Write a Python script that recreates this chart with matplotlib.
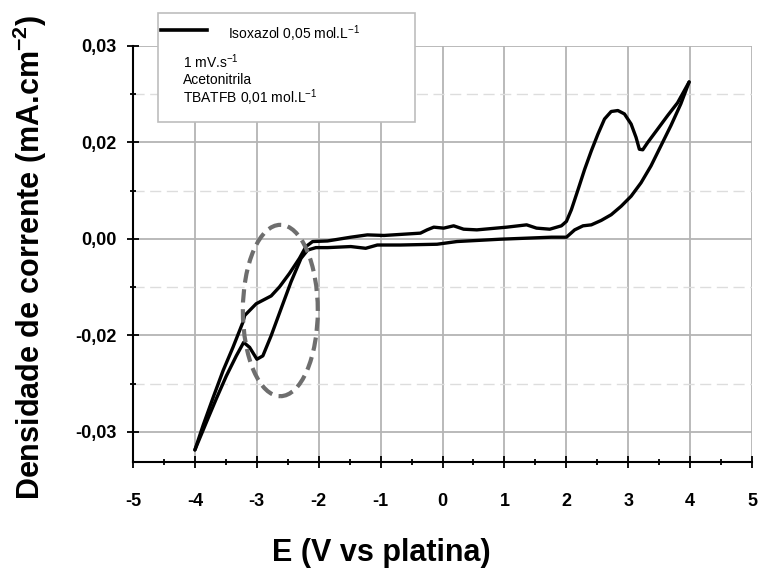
import numpy as np
import matplotlib
matplotlib.use("Agg")
import matplotlib.pyplot as plt
from matplotlib.patches import Ellipse, Rectangle
from matplotlib.lines import Line2D
from matplotlib.ticker import MultipleLocator

plt.rcParams['font.family'] = ['Liberation Sans', 'DejaVu Sans']
plt.rcParams['mathtext.fontset'] = 'custom'
plt.rcParams['mathtext.rm'] = 'Liberation Sans'
plt.rcParams['mathtext.bf'] = 'Liberation Sans:bold'

# cathodic sweep (4 V -> -4 V), current in units of the tick spacing (0.01)
E_back = [3.984, 3.850, 3.690, 3.529, 3.368, 3.207, 3.047, 2.886, 2.725, 2.564,
          2.404, 2.270, 2.135, 2.002, 1.760, 0.929, 0.233, -0.088, -0.678,
          -1.053, -1.241, -1.482, -1.857, -2.045, -2.178, -2.286, -2.447,
          -2.608, -2.768, -2.902, -2.998, -3.116, -3.212, -3.331, -3.492,
          -3.653, -3.814, -4.0]
j_back = [1.627, 1.400, 1.175, 0.966, 0.757, 0.582, 0.443, 0.339, 0.251, 0.192,
          0.146, 0.136, 0.094, 0.018, 0.018, -0.003, -0.027, -0.055, -0.063,
          -0.063, -0.097, -0.079, -0.090, -0.090, -0.115, -0.202, -0.445,
          -0.724, -1.003, -1.212, -1.247, -1.124, -1.072, -1.212, -1.420,
          -1.655, -1.900, -2.187]
# anodic sweep (-4 V -> 4 V)
E_fwd = [-4.0, -3.866, -3.706, -3.545, -3.384, -3.224, -3.196, -3.010, -2.768,
         -2.633, -2.473, -2.312, -2.206, -2.098, -1.857, -1.482, -1.214, -0.945,
         -0.357, -0.249, -0.141, 0.019, 0.180, 0.341, 0.555, 1.037, 1.359,
         1.519, 1.733, 1.921, 2.002, 2.082, 2.190, 2.296, 2.404, 2.511, 2.617,
         2.725, 2.833, 2.939, 3.047, 3.127, 3.180, 3.235, 3.315, 3.476, 3.637,
         3.797, 3.984]
j_fwd = [-2.187, -1.930, -1.645, -1.366, -1.122, -0.863, -0.794, -0.672, -0.591,
         -0.497, -0.358, -0.202, -0.079, -0.027, -0.021, 0.018, 0.042, 0.036,
         0.060, 0.094, 0.122, 0.112, 0.136, 0.101, 0.094, 0.122, 0.146,
         0.112, 0.101, 0.136, 0.182, 0.303, 0.512, 0.721, 0.913, 1.087, 1.243,
         1.321, 1.331, 1.296, 1.191, 1.052, 0.930, 0.924, 1.000, 1.139, 1.279,
         1.411, 1.627]

scale = 0.01
ytick_pos = [0.02, 0.01, 0.0, -0.01, -0.02]
ytick_lab = ['0,03', '0,02', '0,00', '-0,02', '-0,03']
xticks = [-5, -4, -3, -2, -1, 0, 1, 2, 3, 4, 5]

fig = plt.figure(figsize=(7.63, 5.75), dpi=100)
ax = fig.add_axes([0.1743, 0.1965, 0.8113, 0.7235])

ax.plot(np.array(E_back), np.array(j_back) * scale, color='black', lw=2.4,
        solid_joinstyle='round', solid_capstyle='round', zorder=3)
ax.plot(np.array(E_fwd), np.array(j_fwd) * scale, color='black', lw=2.4,
        solid_joinstyle='round', solid_capstyle='round', zorder=3)

ell = Ellipse((-2.62, -0.742 * scale), 1.21, 1.776 * scale, fill=False,
              edgecolor='#6e6e6e', lw=3, linestyle=(0, (3.2, 1.6)), zorder=4)
ax.add_patch(ell)

ax.set_xlim(-5, 5)
ax.set_ylim(-2.3125 * scale, 2.0 * scale)
ax.set_xticks(xticks)
ax.set_xticklabels([str(v) for v in xticks], fontweight='bold', fontsize=13)
ax.set_yticks(ytick_pos)
ax.set_yticklabels(ytick_lab, fontweight='bold', fontsize=13)
ax.xaxis.set_minor_locator(MultipleLocator(0.5))
ax.yaxis.set_minor_locator(MultipleLocator(0.5 * scale))
ax.tick_params(which='major', direction='inout', length=8, width=1.3)
ax.tick_params(which='minor', direction='inout', length=4, width=1.3)
ax.tick_params(axis='x', which='major', pad=18)
ax.tick_params(axis='y', which='major', pad=8)

ax.grid(which='major', axis='x', color='#b4b4b4', lw=1.3)
ax.grid(which='major', axis='y', color='#b4b4b4', lw=1.3)
ax.grid(which='minor', axis='y', color='#dddddd', lw=1.0, linestyle=(0, (8, 4)))
ax.set_axisbelow(True)

for s in ['top', 'right']:
    ax.spines[s].set_visible(False)
for s in ['left', 'bottom']:
    ax.spines[s].set_linewidth(1.5)

fig.text(0.5, 0.038, 'E (V vs platina)', ha='center', va='center',
         fontsize=22, fontweight='bold')
fig.text(0.039, 0.553, r'Densidade de corrente (mA.cm$^{\mathbf{-2}}$)',
         ha='center', va='center', rotation=90, fontsize=22, fontweight='bold')

# legend box
box = Rectangle((0.207, 0.788), 0.337, 0.19, transform=fig.transFigure,
                facecolor='white', edgecolor='#bdbdbd', lw=1.2, zorder=5)
fig.patches.append(box)
fig.lines.append(Line2D([0.211, 0.271], [0.948, 0.948], transform=fig.transFigure,
                        color='black', lw=2.6, zorder=6))
fig.text(0.299, 0.941, r'Isoxazol 0,05 mol.L$^{-1}$', fontsize=10, va='center', zorder=6)
fig.text(0.240, 0.892, r'1 mV.s$^{-1}$', fontsize=10, va='center', zorder=6)
fig.text(0.240, 0.861, 'Acetonitrila', fontsize=10, va='center', zorder=6)
fig.text(0.240, 0.830, r'TBATFB 0,01 mol.L$^{-1}$', fontsize=10, va='center', zorder=6)

fig.savefig('out.png', dpi=100)
